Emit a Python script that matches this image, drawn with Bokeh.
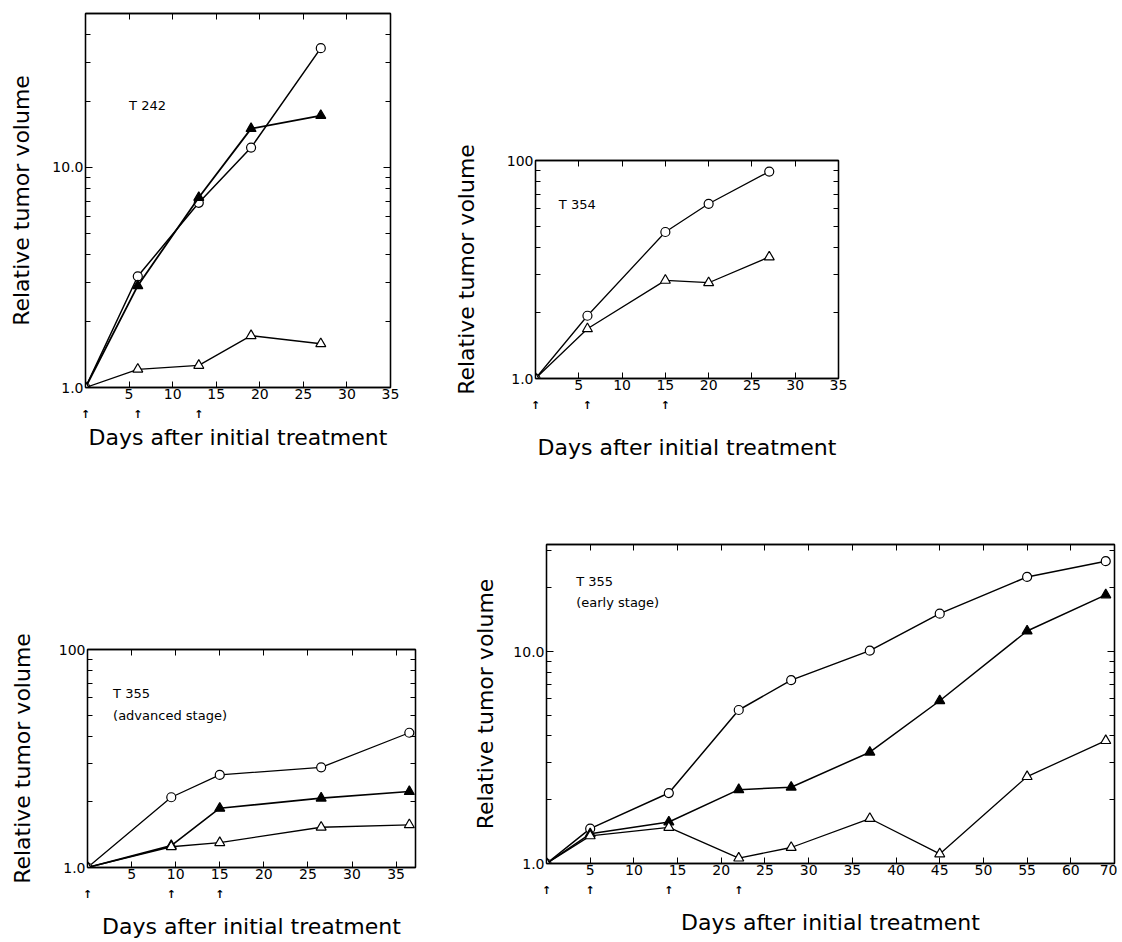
from bokeh.plotting import figure
from bokeh.models import LogAxis, LinearAxis, FixedTicker, Range1d, Label, Spacer
from bokeh.layouts import row, column
from bokeh.embed import file_html
from bokeh.resources import INLINE

# ---------------- data ----------------
# T 242
t242_days = [0, 6, 13, 19, 27]
t242_control = [1.0, 3.2, 6.9, 12.3, 34.8]        # open circles
t242_filled = [1.0, 2.9, 7.3, 15.0, 17.2]         # filled triangles
t242_open = [1.0, 1.21, 1.26, 1.72, 1.58]         # open triangles
t242_treat = [0, 6, 13]

# T 354
t354_days = [0, 6, 15, 20, 27]
t354_control = [1.0, 1.94, 4.7, 6.33, 8.9]
t354_open = [1.0, 1.69, 2.82, 2.75, 3.61]
t354_treat = [0, 6, 15]

# T 355 advanced stage
t355a_days = [0, 9.5, 15, 26.5, 36.5]
t355a_control = [1.0, 2.1, 2.66, 2.88, 4.15]
t355a_filled = [1.0, 1.26, 1.87, 2.08, 2.23]
t355a_open = [1.0, 1.245, 1.30, 1.53, 1.57]
t355a_treat = [0, 9.5, 15]

# T 355 early stage
t355e_days = [0, 5, 14, 22, 28, 37, 45, 55, 64]
t355e_control = [1.0, 1.46, 2.15, 5.3, 7.33, 10.1, 15.1, 22.5, 26.7]
t355e_filled = [1.0, 1.38, 1.57, 2.23, 2.29, 3.35, 5.86, 12.5, 18.5]
t355e_open = [1.0, 1.35, 1.48, 1.06, 1.19, 1.63, 1.11, 2.57, 3.8]
t355e_treat = [0, 5, 14, 22]

# tick labels
xticks_35 = [5, 10, 15, 20, 25, 30, 35]
xticks_65 = [5, 10, 15, 20, 25, 30, 35, 40, 45, 50, 55, 60, 65]
xlabels_65 = {65: "70"}
ylab_a = {1: "1.0", 10: "10.0"}
ylab_b = {1: "1.0", 10: "100"}

FONT = "DejaVu Sans"
XLABEL = "Days after initial treatment"
YLABEL = "Relative tumor volume"


def hidden_labels(ticks):
    return {t: " " for t in ticks}


def make_panel(xmax, ymax, fw, fh, left, top, right, bottom, xticks, xover,
               yover, treat, xl_standoff, yl_standoff):
    p = figure(x_range=Range1d(0, xmax), y_range=Range1d(1, ymax),
               y_axis_type="log", frame_width=fw, frame_height=fh,
               min_border_left=left, min_border_top=top,
               min_border_right=right, min_border_bottom=bottom,
               output_backend="svg", toolbar_location=None)
    p.xgrid.grid_line_color = None
    p.ygrid.grid_line_color = None
    p.outline_line_color = "black"
    p.outline_line_width = 1.3
    p.background_fill_color = "white"
    p.border_fill_color = "white"

    minors = [m * d for d in (1, 10) for m in range(2, 10) if m * d < ymax]
    yt = FixedTicker(ticks=[1, 10], minor_ticks=minors)

    # left y axis
    ya = p.yaxis[0]
    ya.ticker = yt
    ya.major_label_overrides = yover
    ya.axis_label = YLABEL
    ya.axis_label_text_font = FONT
    ya.axis_label_text_font_size = "22px"
    ya.axis_label_text_font_style = "normal"
    ya.axis_label_text_color = "black"
    ya.axis_label_standoff = yl_standoff
    ya.major_label_text_font = FONT
    ya.major_label_text_font_size = "14px"
    ya.major_label_text_color = "black"
    ya.major_label_standoff = 2
    ya.major_tick_in = 7
    ya.major_tick_out = 0
    ya.minor_tick_in = 5
    ya.minor_tick_out = 0
    ya.axis_line_width = 1.3

    # right y axis (ticks only)
    yr = LogAxis(ticker=yt, major_label_overrides=hidden_labels([1, 10]),
                 major_label_text_font_size="8px",
                 major_label_text_color=None,
                 major_label_standoff=0, major_tick_in=7, major_tick_out=0,
                 minor_tick_in=5, minor_tick_out=0, axis_line_width=1.3)
    p.add_layout(yr, "right")

    # bottom x axis
    xa = p.xaxis[0]
    xa.ticker = FixedTicker(ticks=xticks)
    xa.major_label_overrides = xover
    xa.major_label_text_font = FONT
    xa.major_label_text_font_size = "14px"
    xa.major_label_text_color = "black"
    xa.major_label_standoff = 1
    xa.major_tick_in = 6
    xa.major_tick_out = 0
    xa.minor_tick_line_color = None
    xa.axis_line_width = 1.3

    # top x axis (ticks only)
    xt = LinearAxis(ticker=FixedTicker(ticks=xticks),
                    major_label_overrides=hidden_labels(xticks),
                    major_label_text_font_size="8px",
                    major_label_text_color=None, major_label_standoff=0,
                    major_tick_in=6, major_tick_out=0,
                    minor_tick_line_color=None, axis_line_width=1.3)
    p.add_layout(xt, "above")

    # treatment-day arrows + axis title
    xarr = LinearAxis(ticker=FixedTicker(ticks=treat),
                      major_label_overrides={t: "\u2191" for t in treat},
                      major_label_text_font=FONT,
                      major_label_text_font_size="11px",
                      major_label_text_font_style="bold",
                      major_label_text_color="black",
                      major_label_standoff=0,
                      axis_line_color=None, major_tick_line_color=None,
                      minor_tick_line_color=None,
                      axis_label=XLABEL, axis_label_text_font=FONT,
                      axis_label_text_font_size="22px",
                      axis_label_text_font_style="normal",
                      axis_label_text_color="black",
                      axis_label_standoff=xl_standoff)
    p.add_layout(xarr, "below")
    return p


def add_series(p, days, vals, marker, fill, lw=1.3, size=9):
    p.line(days, vals, line_color="black", line_width=lw)
    p.scatter(days, vals, marker=marker, size=size, fill_color=fill,
              line_color="black", line_width=1.2)


def add_text(p, x, y, txt):
    p.add_layout(Label(x=x, y=y, text=txt, text_font=FONT,
                       text_font_size="13px", text_baseline="middle",
                       text_color="black"))


# Panel 1: T 242
p1 = make_panel(35, 50, 305, 374, 85, 13, 10, 91, xticks_35, {}, ylab_a,
                t242_treat, 1, 15)
add_series(p1, t242_days, t242_control, "circle", "white", lw=1.5)
add_series(p1, t242_days, t242_filled, "triangle", "black", lw=1.8, size=10)
add_series(p1, t242_days, t242_open, "triangle", "white", size=10)
add_text(p1, 5, 19.1, "T 242")

# Panel 2: T 354
p2 = make_panel(35, 10, 303, 218, 135, 25, 10, 100, xticks_35, {}, ylab_b,
                t354_treat, 20, 25)
add_series(p2, t354_days, t354_control, "circle", "white")
add_series(p2, t354_days, t354_open, "triangle", "white", size=10)
add_text(p2, 2.7, 6.3, "T 354")

# Panel 3: T 355 advanced stage
p3 = make_panel(37.2, 10, 328, 218, 87, 66, 10, 71, xticks_35, {}, ylab_b,
                t355a_treat, 10, 21)
add_series(p3, t355a_days, t355a_control, "circle", "white")
add_series(p3, t355a_days, t355a_filled, "triangle", "black", lw=1.6, size=10)
add_series(p3, t355a_days, t355a_open, "triangle", "white", size=10)
add_text(p3, 2.9, 6.3, "T 355")
add_text(p3, 2.9, 5.0, "(advanced stage)")

# Panel 4: T 355 early stage
p4 = make_panel(65, 32, 568, 319, 121, 66, 3, 75, xticks_65, xlabels_65,
                ylab_a, t355e_treat, 10, 12)
add_series(p4, t355e_days, t355e_control, "circle", "white", lw=1.5)
add_series(p4, t355e_days, t355e_filled, "triangle", "black", lw=1.5, size=10)
add_series(p4, t355e_days, t355e_open, "triangle", "white", size=10)
add_text(p4, 3.4, 21.4, "T 355")
add_text(p4, 3.4, 17.0, "(early stage)")

layout = column(
    row(p1, column(Spacer(width=10, height=135), p2)),
    row(column(Spacer(width=10, height=105), p3), p4),
)
open("out.html", "w").write(file_html(layout, INLINE))
